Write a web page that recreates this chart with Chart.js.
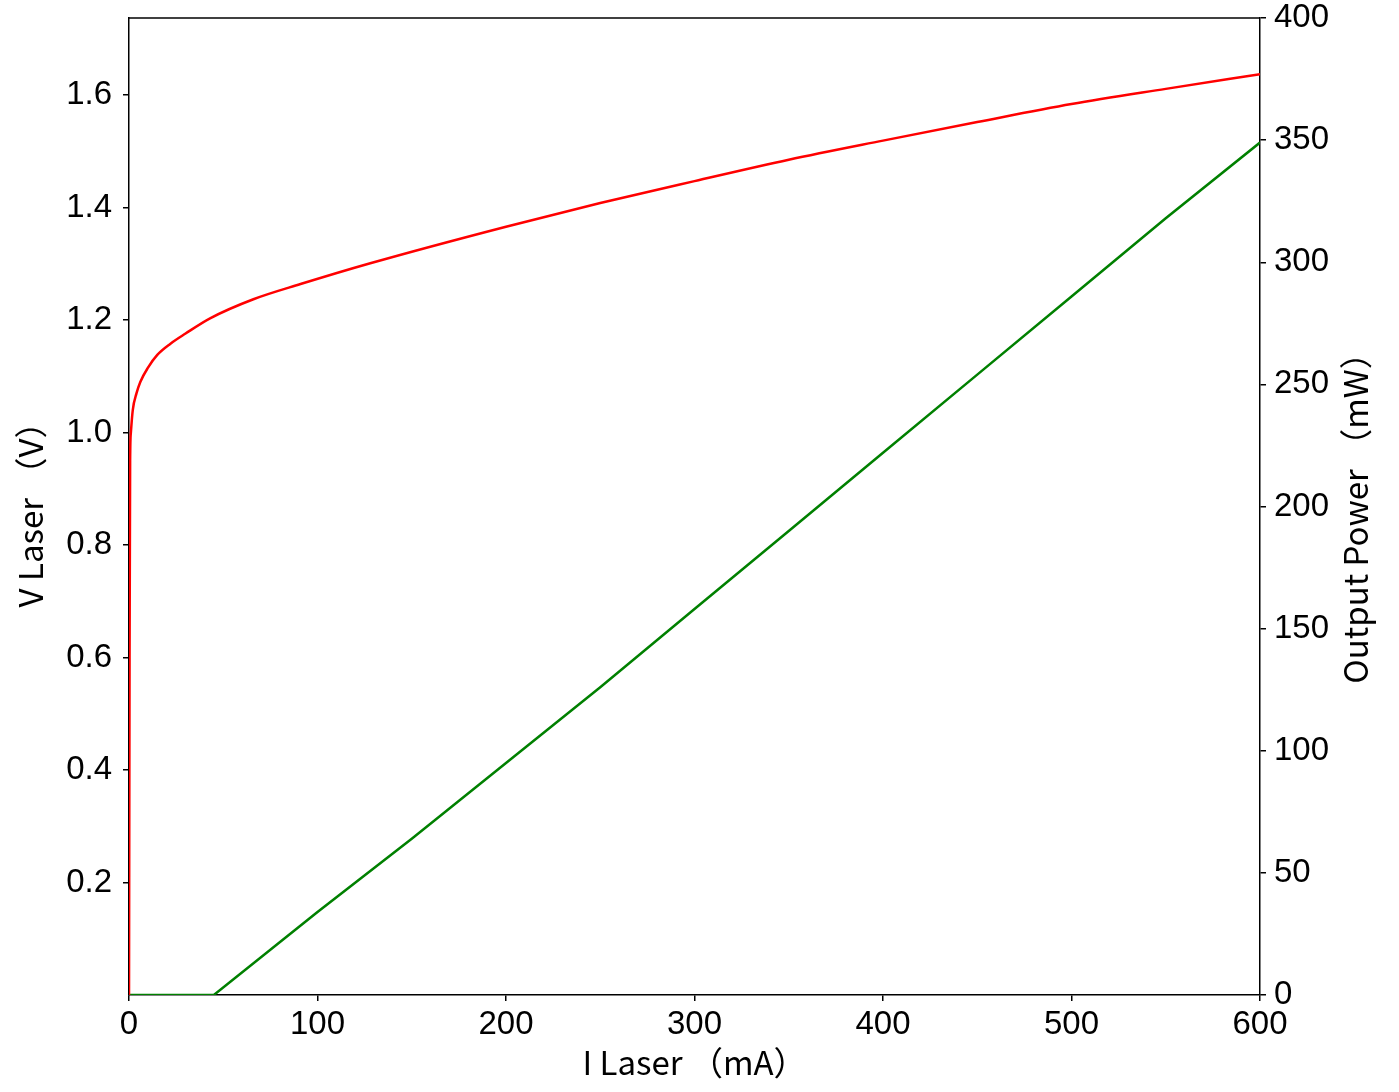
<!DOCTYPE html>
<html>
<head>
<meta charset="utf-8">
<script src="https://cdn.jsdelivr.net/npm/chart.js@4/dist/chart.umd.min.js"></script>
<style>
  html, body { margin: 0; padding: 0; background: #fff; }
  #wrap { width: 1399px; height: 1092px; }
</style>
</head>
<body>
<div id="wrap"><canvas id="liv" width="1399" height="1092"></canvas></div>
<script>
// --- data ---
const currentV = [0, 0.3, 0.6, 1, 2, 4, 6, 10, 15, 22, 30, 43, 66, 91, 128, 200, 250, 300, 350, 400, 450, 500, 550, 600];
const voltage  = [0, 0.6, 0.95, 1.0, 1.04, 1.07, 1.09, 1.115, 1.138, 1.158, 1.176, 1.203, 1.237, 1.264, 1.301, 1.366, 1.408, 1.447, 1.485, 1.519, 1.552, 1.584, 1.611, 1.637];

const currentP = [0, 45, 100, 150, 200, 250, 300, 350, 400, 450, 500, 550, 600];
const power    = [0, 0, 34, 64, 95, 126, 158, 190, 222, 254, 286, 318, 349];

const xTicks  = [0, 100, 200, 300, 400, 500, 600];
const vTicks  = [0.2, 0.4, 0.6, 0.8, 1.0, 1.2, 1.4, 1.6];
const pTicks  = [0, 50, 100, 150, 200, 250, 300, 350, 400];

const tickFont  = { family: 'Liberation Sans, Arial, sans-serif', size: 33 };
const titleFont = { family: 'Noto Sans CJK SC, sans-serif', size: 33 };

function toPoints(xs, ys) {
    return xs.map((x, i) => ({ x: x, y: ys[i] }));
}

// frame top line + right axis title (matplotlib style, reads bottom-to-top)
const framePlugin = {
    id: 'frame',
    afterDraw(chart) {
        const { ctx, chartArea } = chart;
        ctx.save();
        ctx.strokeStyle = '#000';
        ctx.lineWidth = 1.5;
        ctx.beginPath();
        ctx.moveTo(chartArea.left, chartArea.top);
        ctx.lineTo(chartArea.right, chartArea.top);
        ctx.stroke();

        ctx.translate(1355, 510);
        ctx.rotate(-Math.PI / 2);
        ctx.fillStyle = '#000';
        ctx.font = titleFont.size + 'px ' + titleFont.family;
        ctx.textAlign = 'center';
        ctx.textBaseline = 'middle';
        ctx.fillText('Output Power （mW）', 0, 0);
        ctx.restore();
    }
};

function fixedTicks(list) {
    return function (scale) { scale.ticks = list.map(v => ({ value: v })); };
}

// fixed axis sizes, no extra room for overhanging labels
function fitTo(w, h) {
    return function (s) {
        if (w) s.width = w;
        if (h) s.height = h;
        s.paddingTop = 0; s.paddingBottom = 0;
        s.paddingLeft = 0; s.paddingRight = 0;
    };
}

const gridOpts = { display: true, drawOnChartArea: false, drawTicks: true, tickLength: 6, color: '#000', lineWidth: 1.5 };
const borderOpts = { display: true, color: '#000', width: 1.5 };

new Chart(document.getElementById('liv'), {
    type: 'scatter',
    data: {
        datasets: [
            { label: 'V', data: toPoints(currentV, voltage), yAxisID: 'y', showLine: true, borderColor: '#ff0000', borderWidth: 2.5, pointRadius: 0, cubicInterpolationMode: 'monotone' },
            { label: 'P', data: toPoints(currentP, power), yAxisID: 'y2', showLine: true, borderColor: '#008000', borderWidth: 2.5, pointRadius: 0, tension: 0 }
        ]
    },
    options: {
        responsive: false,
        animation: false,
        layout: { padding: { top: 18, left: 0, right: 0, bottom: 0 } },
        plugins: { legend: { display: false }, tooltip: { enabled: false } },
        scales: {
            x: {
                type: 'linear', min: 0, max: 600,
                afterBuildTicks: fixedTicks(xTicks),
                afterFit: fitTo(0, 97),
                grid: gridOpts, border: borderOpts,
                ticks: { color: '#000', font: tickFont, padding: 4, maxRotation: 0, autoSkip: false },
                title: { display: true, text: 'I Laser （mA）', color: '#000', font: titleFont, padding: { top: 0, bottom: 10 } }
            },
            y: {
                type: 'linear', position: 'left', min: 0, max: 1.737,
                afterBuildTicks: fixedTicks(vTicks),
                afterFit: fitTo(129, 0),
                grid: gridOpts, border: borderOpts,
                ticks: { color: '#000', font: tickFont, padding: 11, callback: v => v.toFixed(1) },
                title: { display: true, text: 'V Laser （V）', color: '#000', font: titleFont, padding: { top: 11, bottom: 0 } }
            },
            y2: {
                type: 'linear', position: 'right', min: 0, max: 400,
                afterBuildTicks: fixedTicks(pTicks),
                afterFit: fitTo(139, 0),
                grid: gridOpts, border: borderOpts,
                ticks: { color: '#000', font: tickFont, padding: 8 }
            }
        }
    },
    plugins: [framePlugin]
});
</script>
</body>
</html>
